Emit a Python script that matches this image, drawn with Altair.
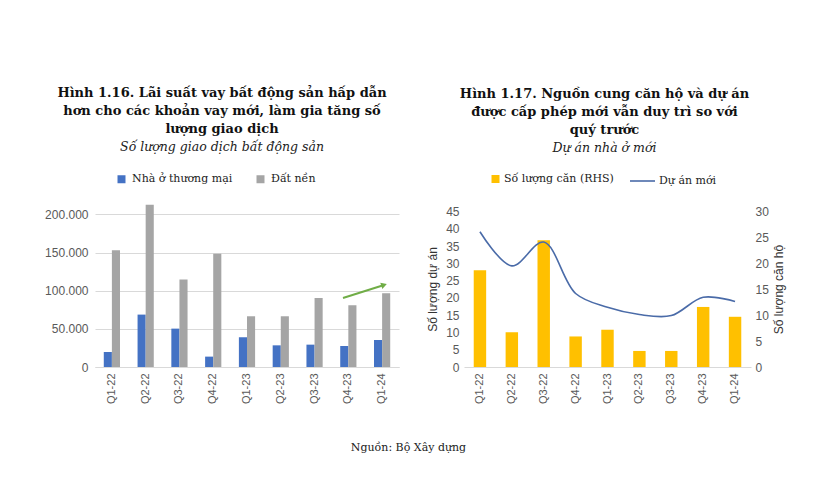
import altair as alt
import pandas as pd

# ---------------- data ----------------
quarters = ["Q1-22", "Q2-22", "Q3-22", "Q4-22", "Q1-23", "Q2-23", "Q3-23", "Q4-23", "Q1-24"]
series_left = ["Nhà ở thương mại", "Đất nền"]
nha_o_thuong_mai = [19700, 68700, 50300, 13600, 39000, 28400, 29300, 27600, 35400]
dat_nen = [153000, 212700, 114700, 148400, 66500, 66500, 90600, 81000, 96700]
left_ticks = [0, 50000, 100000, 150000, 200000]

arrow_from = ["Q4-23", 90500]
arrow_to = ["Q1-24", 107500]

series_right = ["Số lượng căn (RHS)", "Dự án mới"]
so_luong_can = [18.7, 6.7, 24.5, 5.9, 7.2, 3.1, 3.1, 11.6, 9.7]   # RHS
du_an_moi = [39.2, 29.3, 36.2, 21.3, 17.3, 15.2, 14.9, 20.2, 19.0]  # LHS
right_ticks_l = [0, 5, 10, 15, 20, 25, 30, 35, 40, 45]
right_ticks_r = [0, 5, 10, 15, 20, 25, 30]

title_left = ["Hình 1.16. Lãi suất vay bất động sản hấp dẫn",
              "hơn cho các khoản vay mới, làm gia tăng số",
              "lượng giao dịch"]
sub_left = "Số lượng giao dịch bất động sản"
title_right = ["Hình 1.17. Nguồn cung căn hộ và dự án",
               "được cấp phép mới vẫn duy trì so với",
               "quý trước"]
sub_right = "Dự án nhà ở mới"
source = "Nguồn: Bộ Xây dựng"

# ---------------- styles ----------------
SANS = "Liberation Sans"
SERIF = "DejaVu Serif"
LAB = "#595959"
GRID = "#D9D9D9"

rows = []
for i, q in enumerate(quarters):
    rows.append({"quy": q, "loai": series_left[0], "v": nha_o_thuong_mai[i]})
    rows.append({"quy": q, "loai": series_left[1], "v": dat_nen[i]})
df_left = pd.DataFrame(rows)
df_arrow = pd.DataFrame({"quy": [arrow_from[0]], "quy2": [arrow_to[0]],
                         "y1": [arrow_from[1]], "y2": [arrow_to[1]]})
df_head = pd.DataFrame({"quy": [arrow_to[0]], "y2": [arrow_to[1]]})
df_right = pd.DataFrame({"quy": quarters, "can": so_luong_can, "du_an": du_an_moi,
                         "s_can": series_right[0], "s_da": series_right[1]})


def title_params(lines, sub, dx, offset):
    return alt.TitleParams(
        text=lines, subtitle=sub, anchor="middle", frame="group", dx=dx,
        font=SERIF, fontSize=13, fontWeight="bold", color="#111111", lineHeight=18,
        subtitleFont=SERIF, subtitleFontSize=12.5, subtitleFontStyle="italic",
        subtitleColor="#222222", subtitleLineHeight=15, subtitlePadding=5, offset=offset,
    )


x_axis = alt.Axis(title=None, labelAngle=-90, ticks=False, domainColor=GRID,
                  labelFont=SANS, labelFontSize=11, labelColor=LAB, labelPadding=6)

H = 164

# ---------------- left chart ----------------
xl = alt.X("quy:N", sort=quarters,
           scale=alt.Scale(domain=quarters, paddingInner=0.52, paddingOuter=0.26), axis=x_axis)

bars_left = alt.Chart(df_left).mark_bar().encode(
    x=xl,
    xOffset=alt.XOffset("loai:N", sort=series_left,
                        scale=alt.Scale(domain=series_left, paddingInner=0, paddingOuter=0)),
    y=alt.Y("v:Q", scale=alt.Scale(domain=[0, 215000], nice=False),
            axis=alt.Axis(values=left_ticks, title=None, ticks=False, domain=False,
                          gridColor=GRID, labelFont=SANS, labelFontSize=12, labelColor=LAB,
                          labelPadding=7,
                          labelExpr="replace(format(datum.value, ','), ',', '.')")),
    color=alt.Color("loai:N", sort=series_left,
                    scale=alt.Scale(domain=series_left, range=["#4472C4", "#A5A5A5"]),
                    legend=alt.Legend(orient="none", legendX=21, legendY=-29.5,
                                      direction="horizontal", title=None, symbolType="square",
                                      symbolSize=64, symbolStrokeWidth=0, labelFont=SERIF,
                                      labelFontSize=11, labelColor="#222222",
                                      columnPadding=22, labelOffset=5, padding=0)),
)

arrow_line = alt.Chart(df_arrow).mark_rule(color="#70AD47", strokeWidth=2).encode(
    x=alt.X("quy:N", sort=quarters, bandPosition=0.17),
    x2=alt.X2("quy2", bandPosition=0.62),
    y=alt.Y("y1:Q", title=None),
    y2="y2:Q",
)
arrow_head = alt.Chart(df_head).mark_point(
    shape="triangle-right", filled=True, size=45, angle=342, color="#70AD47", opacity=1
).encode(
    x=alt.X("quy:N", sort=quarters, bandPosition=0.62),
    y=alt.Y("y2:Q", title=None),
)

left = alt.layer(bars_left, arrow_line, arrow_head).properties(
    width=304, height=H, title=title_params(title_left, sub_left, -25, 50)
)

# ---------------- right chart ----------------
xr = alt.X("quy:N", sort=quarters,
           scale=alt.Scale(domain=quarters, paddingInner=0.61, paddingOuter=0.305), axis=x_axis)

bars_right = alt.Chart(df_right).mark_bar().encode(
    x=xr,
    y=alt.Y("can:Q", scale=alt.Scale(domain=[0, 31.68], nice=False),
            axis=alt.Axis(orient="right", values=right_ticks_r, grid=False, ticks=False,
                          domain=False, title="Số lượng căn hộ", titleFont=SANS,
                          titleFontSize=12, titleFontWeight="normal", titleColor="#333333",
                          titleAngle=270, titleBaseline="top", titleY=86,
                          titlePadding=5, labelFont=SANS, labelFontSize=12, labelColor=LAB,
                          labelPadding=4)),
    fill=alt.Fill("s_can:N", scale=alt.Scale(domain=[series_right[0]], range=["#FFC000"]),
                  legend=alt.Legend(orient="none", legendX=26, legendY=-29.5,
                                    title=None, symbolType="square", symbolSize=64,
                                    symbolStrokeWidth=0, labelFont=SERIF,
                                    labelFontSize=11, labelColor="#222222",
                                    labelOffset=3, padding=0)),
)

line_right = alt.Chart(df_right).mark_line(interpolate="catmull-rom", strokeWidth=1.6).encode(
    x=xr,
    y=alt.Y("du_an:Q", scale=alt.Scale(domain=[0, 47.52], nice=False),
            axis=alt.Axis(orient="left", values=right_ticks_l, ticks=False, domain=False,
                          gridColor=GRID, title="Số lượng dự án", titleFont=SANS,
                          titleFontSize=12, titleFontWeight="normal", titleColor="#333333",
                          titleY=86,
                          titlePadding=6, labelFont=SANS, labelFontSize=12, labelColor=LAB,
                          labelPadding=5)),
    stroke=alt.Stroke("s_da:N", scale=alt.Scale(domain=[series_right[1]], range=["#4A6BA8"]),
                      legend=alt.Legend(orient="none", legendX=165, legendY=-35.5,
                                        title=None, symbolType="stroke", symbolSize=625,
                                        symbolStrokeWidth=1.6, labelFont=SERIF,
                                        labelFontSize=11, labelColor="#222222",
                                        labelOffset=3, padding=0)),
)

right = alt.layer(bars_right, line_right).resolve_scale(
    y="independent", fill="independent", stroke="independent"
).properties(width=287, height=H, title=title_params(title_right, sub_right, -3, 13))

chart = alt.hconcat(left, right, spacing=27).properties(
    title=alt.TitleParams(text=source, orient="bottom", anchor="middle", frame="bounds",
                          font=SERIF, fontSize=11, fontWeight="normal", color="#222222",
                          offset=38, dx=-6),
    padding={"left": 36, "top": 78, "right": 5, "bottom": 5},
).configure_view(stroke=None).configure_axis(labelOverlap=False)

chart.save("out.html", embed_options={"renderer": "svg", "actions": False})
